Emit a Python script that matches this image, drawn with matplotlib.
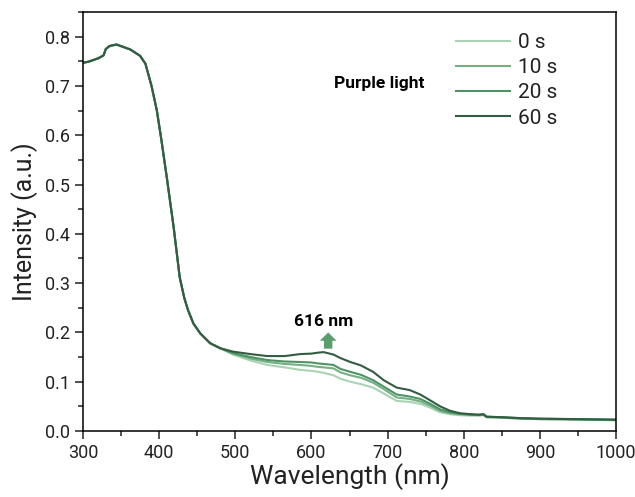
import matplotlib
matplotlib.use('Agg')
import matplotlib.pyplot as plt
from matplotlib.ticker import MultipleLocator

plt.rcParams['font.family'] = ['Roboto', 'DejaVu Sans']

# wavelengths (nm)
wl_short = [300, 307, 320, 327, 330, 335, 344, 362, 375, 382, 390, 397, 403,
            410, 419, 427, 433, 438, 445, 454, 467, 480]
wl_long = [497, 520, 542, 565, 585, 600, 609, 616, 629, 638, 651, 665, 681,
           695, 712, 729, 743, 755, 769, 782, 795, 810, 820, 826, 830, 850,
           875, 900, 950, 1000]

# common absorption edge (all curves overlap here)
shared = [0.747, 0.749, 0.756, 0.762, 0.775, 0.781, 0.784, 0.774, 0.761,
          0.745, 0.700, 0.650, 0.590, 0.515, 0.414, 0.312, 0.270, 0.245,
          0.218, 0.198, 0.178, 0.168]

tail_0s = [0.155, 0.143, 0.134, 0.129, 0.124, 0.122, 0.120, 0.118, 0.113,
           0.106, 0.100, 0.095, 0.088, 0.076, 0.061, 0.059, 0.055, 0.048,
           0.038, 0.034, 0.032, 0.031, 0.031, 0.032, 0.028, 0.027, 0.025,
           0.024, 0.023, 0.022]
tail_10s = [0.157, 0.147, 0.140, 0.136, 0.134, 0.132, 0.130, 0.129, 0.127,
            0.119, 0.113, 0.108, 0.098, 0.085, 0.068, 0.065, 0.060, 0.052,
            0.041, 0.036, 0.034, 0.033, 0.032, 0.033, 0.028, 0.027, 0.025,
            0.024, 0.023, 0.022]
tail_20s = [0.158, 0.150, 0.144, 0.141, 0.140, 0.139, 0.137, 0.136, 0.134,
            0.126, 0.120, 0.114, 0.103, 0.090, 0.074, 0.070, 0.065, 0.056,
            0.044, 0.038, 0.035, 0.033, 0.033, 0.034, 0.029, 0.028, 0.026,
            0.025, 0.024, 0.023]
tail_60s = [0.161, 0.156, 0.152, 0.152, 0.156, 0.157, 0.159, 0.160, 0.155,
            0.148, 0.140, 0.133, 0.120, 0.103, 0.088, 0.083, 0.074, 0.063,
            0.050, 0.041, 0.036, 0.034, 0.033, 0.034, 0.029, 0.028, 0.026,
            0.025, 0.024, 0.023]

labels = ['0 s', '10 s', '20 s', '60 s']
tails = [tail_0s, tail_10s, tail_20s, tail_60s]
colors = ['#a9d3b3', '#74b084', '#4f9365', '#335c42']

fig = plt.figure(figsize=(6.35, 4.97), dpi=100)
ax = fig.add_axes((0.1307, 0.1328, 0.8394, 0.8431))

wl = wl_short + wl_long
for lab, tail, c in zip(labels, tails, colors):
    ax.plot(wl, shared + tail, color=c, lw=1.5, label=lab)

ax.set_xlim(300, 1000)
ax.set_ylim(0, 0.85)
ax.xaxis.set_major_locator(MultipleLocator(100))
ax.xaxis.set_minor_locator(MultipleLocator(50))
ax.yaxis.set_minor_locator(MultipleLocator(0.05))
ax.set_yticks([0, 0.1, 0.2, 0.3, 0.4, 0.5, 0.6, 0.7, 0.8])
ax.tick_params(which='both', direction='out', top=False, right=False,
               labelsize=13, width=1.1, colors='#222222')
ax.tick_params(which='major', length=6)
ax.tick_params(which='minor', length=3.5)
for s in ax.spines.values():
    s.set_linewidth(1.1)

ax.set_xlabel('Wavelength (nm)', fontsize=19, color='#222222', labelpad=1)
ax.set_ylabel('Intensity (a.u.)', fontsize=18, color='#222222', labelpad=5)

leg = ax.legend(loc='upper left', bbox_to_anchor=(0.665, 0.995), frameon=False,
                fontsize=15, handlelength=2.6, handletextpad=0.35,
                labelspacing=0.3)
for t in leg.get_texts():
    t.set_color('#222222')

ax.text(0.47, 0.83, 'Purple light', transform=ax.transAxes, fontsize=12.5,
        fontweight='bold', color='black', va='center')
ax.text(616, 0.222, '616 nm', fontsize=12.5, fontweight='bold', color='black',
        ha='center', va='center')
ax.annotate('', xy=(622, 0.200), xytext=(622, 0.167),
            arrowprops=dict(arrowstyle='simple,head_width=1.2,head_length=0.6,tail_width=0.6',
                            color='#5a9e6e', lw=0, shrinkA=0, shrinkB=0))

plt.savefig('out.png', dpi=100)
plt.close()
